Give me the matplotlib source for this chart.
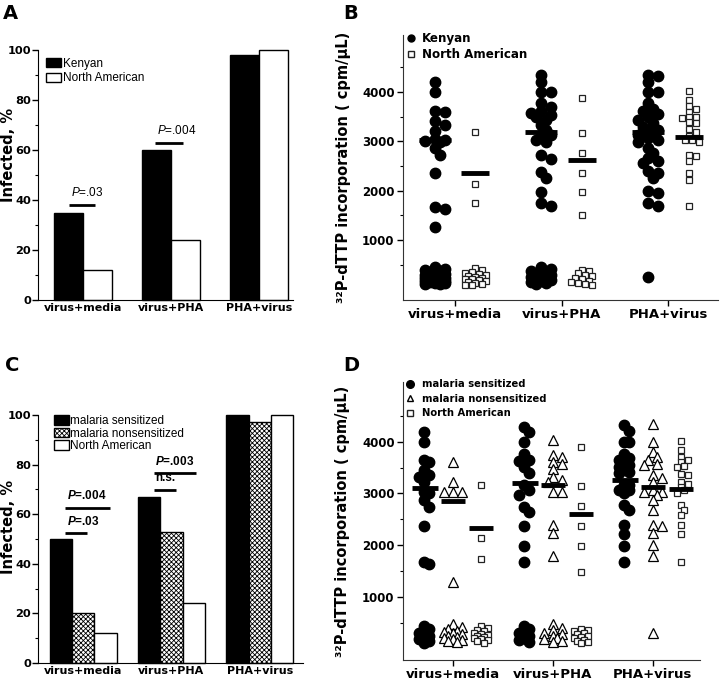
import numpy as np
import matplotlib
matplotlib.use("Agg")
import matplotlib.pyplot as plt
from matplotlib.patches import Patch
from matplotlib.lines import Line2D

plt.rcParams['font.family'] = ['DejaVu Sans']
plt.rcParams['mathtext.fontset'] = 'custom'
plt.rcParams['mathtext.rm'] = 'Liberation Sans'
plt.rcParams['mathtext.it'] = 'Liberation Sans:italic'
plt.rcParams['mathtext.bf'] = 'Liberation Sans:italic:bold'
plt.rcParams['hatch.linewidth'] = 0.6

# ---- data ----
groups = ['virus+media', 'virus+PHA', 'PHA+virus']

# panel A (% infected)
kenyan_pct = [35, 60, 98]
na_pct = [12, 24, 100]

# panel C (% infected)
sens_pct = [50, 67, 100]
nonsens_pct = [20, 53, 97]
na_pct_c = [12, 24, 100]

# panel B (cpm/uL), per group
kenyan_b = [
    [4190, 4000, 3620, 3600, 3410, 3330, 3200, 3050, 3020, 3000, 2980, 2860, 2720, 2360, 1660, 1630, 1260,
     450, 420, 400, 380, 350, 330, 310, 300, 280, 265, 250, 240, 230, 215, 200, 190, 180, 170, 160, 150,
     140, 130, 120, 110],
    [4340, 4190, 4000, 4000, 3770, 3700, 3620, 3570, 3530, 3500, 3430, 3330, 3230, 3130, 3120, 3030, 2990,
     2720, 2640, 2370, 2250, 1980, 1750, 1680,
     460, 420, 380, 340, 310, 290, 270, 250, 230, 210, 190, 170, 150, 130, 110],
    [4340, 4330, 4190, 4000, 3990, 3770, 3650, 3620, 3550, 3500, 3430, 3370, 3280, 3230, 3200, 3130, 3130,
     3060, 3030, 2990, 2860, 2760, 2660, 2600, 2550, 2390, 2350, 2250, 2000, 1950, 1750, 1680, 260],
]
kenyan_b_med = [3030, 3195, 3195]
na_b = [
    [3180, 2130, 1760,
     440, 390, 360, 330, 310, 290, 270, 250, 240, 220, 210, 190, 180, 160, 140, 120, 100, 90],
    [3880, 3170, 2760, 2350, 1970, 1510,
     400, 380, 330, 300, 270, 240, 210, 180, 150, 130, 110, 90],
    [4020, 3840, 3710, 3650, 3600, 3500, 3480, 3500, 3380, 3370, 3250, 3190, 3110, 3020, 3020, 2990,
     2720, 2700, 2600, 2360, 2220, 1690],
]
na_b_med = [2365, 2620, 3080]

# panel D (cpm/uL), per group
sens_d = [
    [4190, 4000, 3640, 3610, 3450, 3350, 3320, 3220, 3030, 3000, 2870, 2740, 2370, 1680, 1630,
     430, 370, 300, 250, 220, 180, 140, 110],
    [4290, 4190, 4000, 3770, 3640, 3630, 3510, 3400, 3160, 3060, 2970, 2740, 2640, 2370, 1980, 1670,
     440, 370, 300, 250, 200, 160, 130],
    [4320, 4210, 4000, 4000, 3770, 3680, 3640, 3610, 3550, 3520, 3480, 3420, 3400, 3160, 3160, 3060,
     3060, 3000, 2770, 2680, 2390, 2220, 1980, 1680],
]
sens_d_med = [3100, 3205, 3270]
nonsens_d = [
    [3610, 3220, 3030, 3030, 3030, 1290,
     480, 420, 380, 340, 310, 290, 270, 250, 220, 200, 180, 160, 140, 120],
    [4030, 3740, 3710, 3610, 3580, 3480, 3320, 3270, 3220, 3030, 3030, 2390, 2240, 1790,
     480, 400, 350, 300, 270, 240, 210, 180, 150, 120],
    [4350, 4000, 3800, 3710, 3640, 3580, 3550, 3350, 3290, 3220, 3060, 3030, 3030, 2970, 2870, 2680,
     2390, 2370, 2230, 2000, 1790, 300],
]
nonsens_d_med = [2860, 3160, 3130]
na_d = [
    [3160, 2130, 1740,
     430, 400, 360, 330, 300, 280, 260, 240, 220, 200, 180, 160, 140, 110],
    [3890, 3140, 2760, 2370, 1980, 1470,
     380, 350, 330, 300, 270, 250, 220, 200, 170, 150, 120, 100],
    [4020, 3850, 3700, 3640, 3600, 3510, 3530, 3380, 3350, 3230, 3190, 3130, 3000, 3060,
     2770, 2680, 2590, 2390, 2210, 1680],
]
na_d_med = [2335, 2595, 3090]


def swarm_x(ax, xc, vals, d, maxw, tight=0.7):
    # simple deterministic beeswarm in pixel space (overlap allowed)
    vals = np.asarray(vals, float)
    pts = ax.transData.transform(np.column_stack([np.full(len(vals), xc), vals]))
    x0 = pts[0, 0]
    ys = pts[:, 1]
    cands = [0.0]
    k = 1
    while k * d * 0.5 <= maxw:
        cands += [k * d * 0.5, -k * d * 0.5]
        k += 1
    placed = []
    offs = np.zeros(len(vals))
    for i in np.argsort(-ys):
        best, bestscore = 0.0, -1
        for c in cands:
            md = min([np.hypot(c - px, ys[i] - py) for px, py in placed] or [1e9])
            if md >= d * tight:
                best = c
                break
            if md > bestscore:
                bestscore, best = md, c
        placed.append((best, ys[i]))
        offs[i] = best
    back = ax.transData.inverted().transform(np.column_stack([x0 + offs, ys]))
    return back[:, 0]


fig = plt.figure(figsize=(7.2, 6.8), dpi=100)
W, H = 720, 680


def add_ax(left, top, right, bottom):
    return fig.add_axes([left / W, 1 - bottom / H, (right - left) / W, (bottom - top) / H])


def style_bar_ax(ax, xlabsize):
    for s in ['top', 'right']:
        ax.spines[s].set_visible(False)
    ax.set_ylim(0, 100)
    ax.set_yticks([0, 20, 40, 60, 80, 100])
    ax.set_yticks(range(10, 100, 20), minor=True)
    ax.set_xticks(range(3))
    ax.set_xticklabels(groups, fontsize=xlabsize, fontweight='bold')
    ax.tick_params(axis='x', length=0, pad=2)
    ax.tick_params(axis='y', which='major', length=4, width=1, labelsize=8.2, pad=1)
    ax.tick_params(axis='y', which='minor', length=2, width=0.8)
    for lab in ax.get_yticklabels():
        lab.set_fontweight('bold')


def style_dot_ax(ax, ylo, yhi):
    for s in ['top', 'right']:
        ax.spines[s].set_visible(False)
    for s in ['left', 'bottom']:
        ax.spines[s].set_color('#333333')
    ax.set_ylim(ylo, yhi)
    ax.set_yticks([1000, 2000, 3000, 4000])
    ax.set_yticks([500, 1500, 2500, 3500, 4500], minor=True)
    ax.set_xticks(range(3))
    ax.set_xticklabels(groups, fontsize=9.5, fontweight='bold')
    ax.tick_params(axis='x', length=4, width=1, pad=1.5)
    ax.tick_params(axis='y', which='major', length=4, width=1, labelsize=8.5, pad=2)
    ax.tick_params(axis='y', which='minor', length=2, width=0.8)
    for lab in ax.get_yticklabels():
        lab.set_fontweight('bold')
    ax.set_ylabel('³²P-dTTP incorporation ( cpm/µL)', fontsize=10.5, fontweight='bold')


def pline(ax, x1, x2, y, txt, bold=False, size=8.5):
    ax.plot([x1, x2], [y, y], color='black', lw=2, solid_capstyle='butt')
    ax.text(x1 + 0.02, y + 2.2, txt, fontsize=size, family='Liberation Sans',
            fontweight='bold' if bold else 'normal', ha='left', va='bottom')


# ---------- A ----------
axA = add_ax(38, 50, 293, 300)
x = np.arange(3)
bw = 0.333
axA.bar(x - bw / 2, kenyan_pct, bw, color='black', edgecolor='black', lw=1, clip_on=False)
axA.bar(x + bw / 2, na_pct, bw, color='white', edgecolor='black', lw=1, clip_on=False)
axA.set_xlim(-0.511, 2.386)
style_bar_ax(axA, 8)
axA.set_ylabel('Infected, %', fontsize=10.5, fontweight='bold')
axA.yaxis.set_label_coords(-0.085, 0.58)
pline(axA, -0.16, 0.14, 38, r'$\mathit{P}$=.03')
pline(axA, 0.82, 1.14, 63, r'$\mathit{P}$=.004')
axA.legend([Patch(fc='black', ec='black'), Patch(fc='white', ec='black')],
           ['Kenyan', 'North American'], loc='upper left', bbox_to_anchor=(0.03, 0.97),
           frameon=False, prop={'family': 'Liberation Sans', 'size': 8.5},
           handlelength=1.3, handleheight=0.85, handletextpad=0.15, labelspacing=0.25,
           borderpad=0, borderaxespad=0)

# ---------- C ----------
axC = add_ax(38, 415, 303, 663)
bw = 0.253
axC.bar(x - bw, sens_pct, bw, color='black', edgecolor='black', lw=1, clip_on=False)
axC.bar(x, nonsens_pct, bw, color='white', edgecolor='black', hatch='xxxxxxx', lw=1, clip_on=False)
axC.bar(x + bw, na_pct_c, bw, color='white', edgecolor='black', lw=1, clip_on=False)
axC.set_xlim(-0.51, 2.49)
style_bar_ax(axC, 8)
axC.set_ylabel('Infected, %', fontsize=10.5, fontweight='bold')
axC.yaxis.set_label_coords(-0.082, 0.55)
pline(axC, -0.2, 0.05, 52.3, r'$\mathbf{P}$=.03', bold=True)
pline(axC, -0.2, 0.31, 62.7, r'$\mathbf{P}$=.004', bold=True)
pline(axC, 0.8, 1.05, 69.8, 'n.s.', bold=True)
pline(axC, 0.8, 1.28, 76.5, r'$\mathbf{P}$=.003', bold=True)
axC.legend([Patch(fc='black', ec='black'), Patch(fc='white', ec='black', hatch='xxxxxxx'),
            Patch(fc='white', ec='black')],
           ['malaria sensitized', 'malaria nonsensitized', 'North American'],
           loc='upper left', bbox_to_anchor=(0.06, 1.0),
           frameon=False, prop={'family': 'Liberation Sans', 'size': 8.5},
           handlelength=1.3, handleheight=0.85, handletextpad=0.1, labelspacing=0.05,
           borderpad=0, borderaxespad=0)

# ---------- B ----------
axB = add_ax(403, 35, 718, 300)
axB.set_xlim(-0.487, 2.465)
style_dot_ax(axB, -212, 5150)
axB.yaxis.set_label_coords(-0.165, 0.5)
for i in range(3):
    xs = swarm_x(axB, i - 0.19, kenyan_b[i], 10, 11)
    axB.plot(xs, kenyan_b[i], 'o', ms=7.5, color='black', mec='black', ls='none')
    xs = swarm_x(axB, i + 0.19, na_b[i], 7, 11)
    axB.plot(xs, na_b[i], 's', ms=5, mfc='white', mec='#222222', mew=0.9, ls='none')
    axB.plot([i - 0.34, i - 0.04], [kenyan_b_med[i]] * 2, color='black', lw=3.5, solid_capstyle='butt')
    axB.plot([i + 0.06, i + 0.32], [na_b_med[i]] * 2, color='black', lw=3.5, solid_capstyle='butt')
axB.legend([Line2D([], [], marker='o', ls='none', color='black', ms=5),
            Line2D([], [], marker='s', ls='none', mfc='white', mec='#222222', ms=4.5)],
           ['Kenyan', 'North American'], loc='upper left', bbox_to_anchor=(0.01, 1.01),
           frameon=False, prop={'weight': 'bold', 'size': 8.6},
           handlelength=0.8, handletextpad=0.5, labelspacing=0.25, borderpad=0, borderaxespad=0)

# ---------- D ----------
axD = add_ax(403, 382, 700, 660)
axD.set_xlim(-0.497, 2.473)
style_dot_ax(axD, -224, 5158)
axD.yaxis.set_label_coords(-0.18, 0.5)
for i in range(3):
    xs = swarm_x(axD, i - 0.29, sens_d[i], 10, 9)
    axD.plot(xs, sens_d[i], 'o', ms=7.5, color='black', ls='none')
    xs = swarm_x(axD, i, nonsens_d[i], 9, 9)
    axD.plot(xs, nonsens_d[i], '^', ms=6.5, mfc='white', mec='black', mew=0.9, ls='none')
    xs = swarm_x(axD, i + 0.28, na_d[i], 7, 9)
    axD.plot(xs, na_d[i], 's', ms=5, mfc='white', mec='#222222', mew=0.9, ls='none')
    axD.plot([i - 0.41, i - 0.15], [sens_d_med[i]] * 2, color='black', lw=3.5, solid_capstyle='butt')
    axD.plot([i - 0.12, i + 0.12], [nonsens_d_med[i]] * 2, color='black', lw=3.5, solid_capstyle='butt')
    axD.plot([i + 0.16, i + 0.40], [na_d_med[i]] * 2, color='black', lw=3.5, solid_capstyle='butt')
axD.legend([Line2D([], [], marker='o', ls='none', color='black', ms=5.5),
            Line2D([], [], marker='^', ls='none', mfc='white', mec='black', ms=4.5),
            Line2D([], [], marker='s', ls='none', mfc='white', mec='#222222', ms=4)],
           ['malaria sensitized', 'malaria nonsensitized', 'North American'],
           loc='upper left', bbox_to_anchor=(0.01, 1.01),
           frameon=False, prop={'weight': 'bold', 'size': 7.2},
           handlelength=0.8, handletextpad=0.8, labelspacing=0.45, borderpad=0, borderaxespad=0)

# panel letters
for lab, px, py in [('A', 3, 4), ('B', 343, 4), ('C', 5, 356), ('D', 343, 356)]:
    fig.text(px / W, 1 - py / H, lab, fontsize=14, fontweight='bold', ha='left', va='top')

fig.savefig('out.png', dpi=100)
